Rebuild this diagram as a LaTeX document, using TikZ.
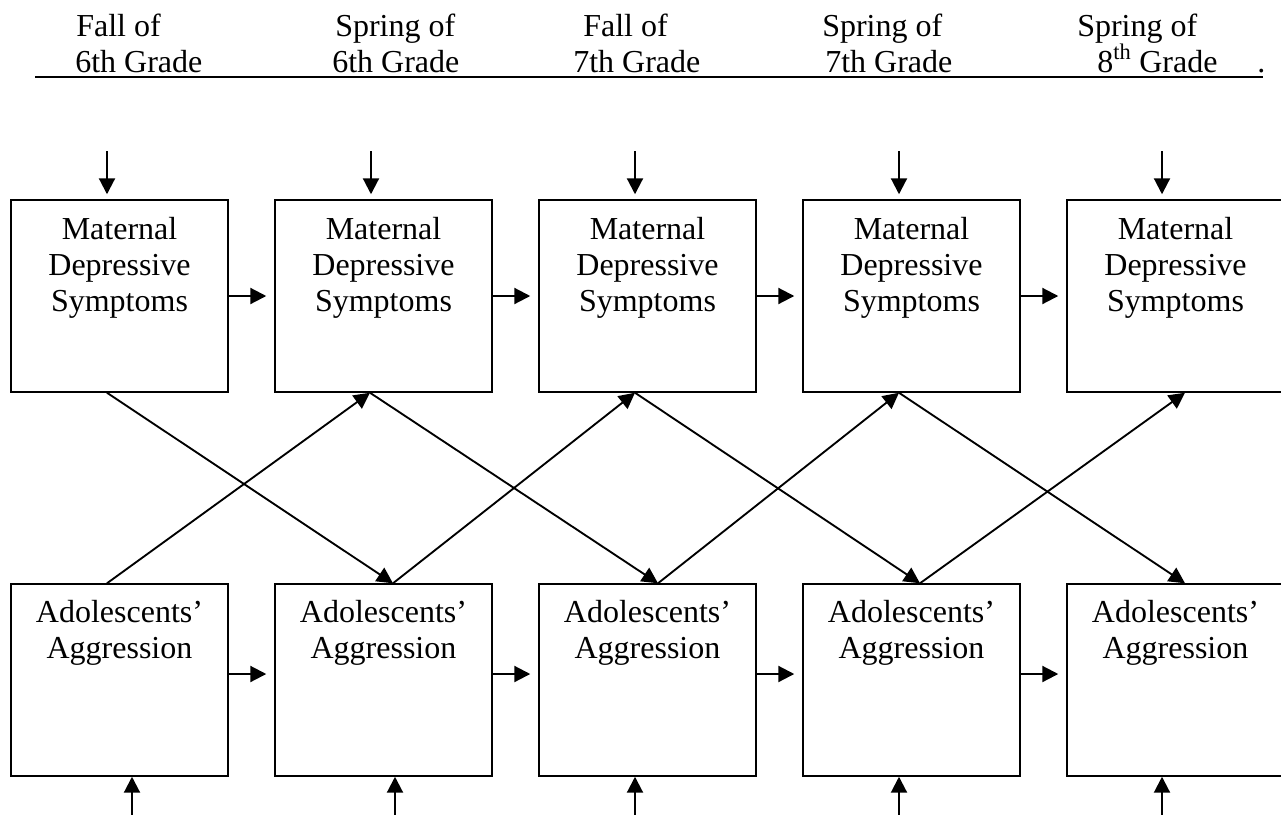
\documentclass[tikz,border=0pt]{standalone}
\usepackage{fontspec}
\setmainfont{Liberation Serif}
\usetikzlibrary{arrows.meta,calc}

\begin{document}
\begin{tikzpicture}[x=0.75pt, y=-0.75pt,
    box/.style={draw, line width=1.1pt, minimum width=162.75pt, minimum height=144pt, inner sep=0pt},
    txt/.style={font=\fontsize{24}{27}\selectfont, align=center, inner sep=0pt, anchor=north},
    hd/.style={font=\fontsize{24}{27}\selectfont, anchor=base west, inner sep=0pt},
    arr/.style={-{Triangle[length=12pt,width=12pt]}, line width=1.6pt},
    cross/.style={-{Triangle[length=12pt,width=12pt]}, line width=1.4pt}]
    \useasboundingbox (0,0) rectangle (1281,814);
    \clip (0,0) rectangle (1281,814);

    % Time points
    \foreach \n/\xa/\xb/\ta/\tb in {1/76/75/Fall of/6th Grade, 2/335/332/Spring of/6th Grade,
        3/583/573/Fall of/7th Grade, 4/822/825/Spring of/7th Grade,
        5/1077/1097/Spring of/8\textsuperscript{th} Grade} {
        \node[hd] (t\n) at (\xa,36) {\ta};
        \node[hd] (g\n) at (\xb,72) {\tb};
    }
    \node[hd] (dot) at (1257,72) {.};
    \draw[line width=1.6pt] (35,77) -- (1263,77);

    % Boxes
    \foreach \i in {1,...,5} {
        \node[box] (m\i) at ({119.5+264*(\i-1)},296) {};
        \node[box] (a\i) at ({119.5+264*(\i-1)},680) {};
        \node[txt] (ml\i) at ($(m\i.north)+(0,18)$) {Maternal\\Depressive\\Symptoms};
        \node[txt] (al\i) at ($(a\i.north)+(0,17)$) {Adolescents’\\Aggression};
    }

    % Stability paths
    \foreach \i/\j in {1/2, 2/3, 3/4, 4/5} {
        \draw[arr] (m\i.east) -- ($(m\j.west)+(-8,0)$);
        \draw[arr] ($(a\i.east)+(0,-6)$) -- ($(a\j.west)+(-8,-6)$);
    }

    % Cross-lagged paths
    \foreach \i/\dm/\da in {1/-12.5/-12.5, 2/-13.5/9.5, 3/-12.5/10.5, 4/-12.5/8.5, 5/9.5/9.5} {
        \coordinate (mb\i) at ($(m\i.south)+(\dm,0)$);
        \coordinate (an\i) at ($(a\i.north)+(\da,0)$);
    }
    \foreach \i/\j in {1/2, 2/3, 3/4, 4/5} {
        \draw[cross] (mb\i) -- (an\j);
        \draw[cross] (an\i) -- (mb\j);
    }

    % Residuals
    \foreach \i/\dt/\db in {1/-12.5/12.5, 2/-12.5/11.5, 3/-12.5/-12.5, 4/-12.5/-12.5, 5/-13.5/-13.5} {
        \coordinate (ei\i) at ($(m\i.north)+(\dt,-48)$);
        \coordinate (ui\i) at ($(a\i.south)+(\db,42)$);
        \draw[arr] (ei\i) -- ($(m\i.north)+(\dt,-5)$);
        \draw[arr] (ui\i) -- ($(a\i.south)+(\db,0)$);
    }
\end{tikzpicture}
\end{document}
